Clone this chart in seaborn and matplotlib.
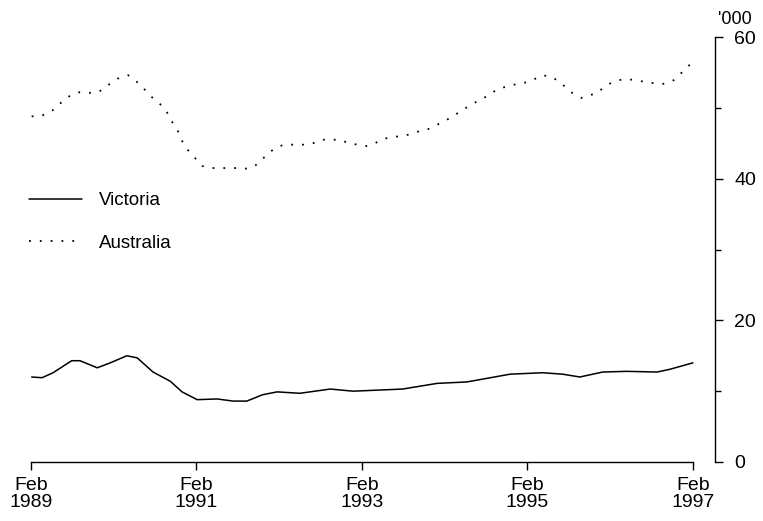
import pandas as pd
import matplotlib
matplotlib.use('Agg')
import matplotlib.pyplot as plt
import seaborn as sns
from matplotlib.lines import Line2D

# months since Feb 1989 and values ('000)
vic_month = [0.1, 1.6, 3.2, 5.9, 7.1, 9.6, 11.5, 13.9, 15.4, 17.7, 20.2, 21.9, 24.1,
             27.0, 29.3, 31.3, 33.6, 35.7, 39.0, 43.4, 46.7, 49.2, 53.9, 58.9, 63.2,
             69.5, 74.2, 77.1, 79.6, 82.9, 86.4, 90.8, 92.7, 96.0]
vic_value = [12.0, 11.9, 12.6, 14.3, 14.3, 13.3, 14.0, 15.0, 14.7, 12.7, 11.4, 9.9, 8.8,
             8.9, 8.6, 8.6, 9.5, 9.9, 9.7, 10.3, 10.0, 10.1, 10.3, 11.1, 11.3,
             12.4, 12.6, 12.4, 12.0, 12.7, 12.8, 12.7, 13.1, 14.0]

aus_month = [0.1, 1.3, 2.6, 3.8, 4.6, 5.8, 7.0, 8.3, 9.7, 10.7, 11.7, 12.9, 14.1, 15.2,
             16.2, 17.1, 18.1, 19.0, 19.9, 20.4, 21.2, 21.6, 22.2, 23.1, 24.1, 24.8,
             26.1, 27.4, 28.7, 30.2, 31.5, 32.6, 33.6, 34.7, 35.7, 36.8, 38.3, 39.6,
             40.9, 42.2, 43.5, 44.8, 46.1, 47.4, 48.6, 49.9, 51.0, 52.5, 53.8, 55.1,
             56.3, 57.6, 58.9, 59.9, 61.2, 62.4, 64.5, 65.7, 66.8, 68.0, 69.2, 70.5,
             71.9, 72.9, 74.2, 75.5, 76.7, 78.5, 79.8, 82.1, 83.2, 84.3, 85.7, 86.9,
             88.2, 89.5, 90.8, 91.9, 93.2, 94.3, 95.1, 96.0]
aus_value = [48.8, 48.8, 49.3, 50.1, 51.0, 51.8, 52.2, 52.1, 52.2, 52.8, 53.6, 54.3, 54.6, 53.8,
             52.9, 51.9, 51.0, 50.3, 49.1, 48.1, 47.0, 45.9, 44.8, 43.6, 42.6, 41.8,
             41.5, 41.5, 41.5, 41.5, 41.4, 41.9, 42.8, 43.8, 44.5, 44.8, 44.8, 44.8,
             45.0, 45.5, 45.5, 45.5, 45.0, 44.8, 44.6, 45.0, 45.6, 45.9, 46.0, 46.3,
             46.7, 47.0, 47.6, 48.1, 48.8, 49.6, 50.8, 51.4, 52.1, 52.8, 53.0, 53.4,
             53.6, 54.0, 54.6, 54.4, 53.6, 52.1, 51.4, 52.1, 53.0, 53.6, 54.0, 54.0,
             53.8, 53.6, 53.4, 53.4, 53.9, 54.9, 55.8, 56.3]

tick_months = [0, 24, 48, 72, 96]
tick_labels = ['Feb\n1989', 'Feb\n1991', 'Feb\n1993', 'Feb\n1995', 'Feb\n1997']

vic = pd.DataFrame({'month': vic_month, 'value': vic_value})
aus = pd.DataFrame({'month': aus_month, 'value': aus_value})

sns.set_style('ticks')
plt.rcParams['font.family'] = ['Liberation Sans', 'DejaVu Sans']
plt.rcParams['text.color'] = 'black'

fig = plt.figure(figsize=(7.63, 5.21), dpi=100)
ax = fig.add_axes([31 / 763, 1 - 462 / 521, (715 - 31) / 763, (462 - 37) / 521])

sns.lineplot(data=vic, x='month', y='value', ax=ax, color='black', linewidth=1.1,
             estimator=None, sort=False)
sns.lineplot(data=aus, x='month', y='value', ax=ax, color='black', linewidth=1.3,
             linestyle=(0, (1, 5)), estimator=None, sort=False)

ax.set_xlim(0, 99.2)
ax.set_ylim(0, 60)
ax.set_xlabel('')
ax.set_ylabel('')

ax.spines['left'].set_visible(False)
ax.spines['top'].set_visible(False)
ax.spines['right'].set_visible(True)
ax.spines['bottom'].set_bounds(0, 96)
for s in ['right', 'bottom']:
    ax.spines[s].set_linewidth(1.0)
    ax.spines[s].set_color('black')

ax.set_xticks(tick_months)
ax.set_xticklabels(tick_labels, fontsize=14, linespacing=1.0)
ax.tick_params(axis='x', direction='out', length=6, width=1, pad=5, colors='black')

ax.yaxis.tick_right()
ax.set_yticks([0, 20, 40, 60])
ax.set_yticks([10, 30, 50], minor=True)
ax.tick_params(axis='y', which='major', direction='out', length=6, width=1, pad=8,
               labelsize=14, colors='black')
ax.tick_params(axis='y', which='minor', direction='out', length=4, width=1, colors='black')

fig.text(718 / 763, 1 - 19 / 521, "'000", fontsize=13, va='center', ha='left', color='black')

handles = [Line2D([], [], color='black', linewidth=1.1),
           Line2D([], [], color='black', linewidth=1.3, linestyle=(0, (1, 5)))]
leg = ax.legend(handles, ['Victoria', 'Australia'], loc='upper left',
                bbox_to_anchor=(29 / 763, 1 - 192 / 521), bbox_transform=fig.transFigure,
                frameon=False, fontsize=13.5, handlelength=2.8, handletextpad=0.95,
                labelspacing=1.35, borderpad=0, borderaxespad=0)
for t in leg.get_texts():
    t.set_color('black')

fig.savefig('out.png', dpi=100)
